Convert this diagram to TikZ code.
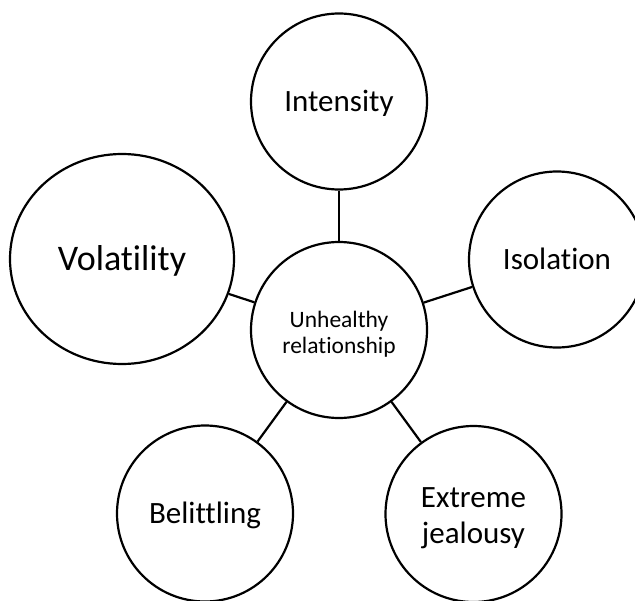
\documentclass[tikz,border=0pt]{standalone}
\usepackage{fontspec}
\setmainfont{Carlito}[Ligatures={NoCommon}]
\usetikzlibrary{shapes.geometric}
\begin{document}
\begin{tikzpicture}[x=1bp,y=-1bp,
  bubble/.style={circle, draw=black, line width=2.2bp, minimum size=176bp, inner sep=0pt, align=center},
  conn/.style={draw=black, line width=2.2bp},
  bigtext/.style={font=\fontsize{31bp}{38bp}\selectfont, text height=19.6bp, text depth=0pt},
  hugetext/.style={font=\fontsize{36bp}{44bp}\selectfont, text height=22.7bp, text depth=0pt},
  midtext/.style={font=\fontsize{31bp}{36.5bp}\selectfont},
  smalltext/.style={font=\fontsize{23.5bp}{26bp}\selectfont}]
\fill[white] (0,0) rectangle (635,601);
\clip (0,0) rectangle (635,601);
\useasboundingbox (0,0) rectangle (635,601);
\node[bubble, bigtext] (int) at (339,101.5) {Intensity};
\node[bubble, smalltext] (cen) at (339,330) {\rule{0pt}{24.3bp}Unhealthy\\relationship};
\node[ellipse, draw=black, line width=2.2bp, minimum width=224bp, minimum height=210bp, inner sep=0pt, hugetext] (vol) at (122,259) {Volatility};
\node[bubble, bigtext] (iso) at (557,259.5) {Isolation};
\node[bubble, bigtext] (bel) at (205,513.5) {Belittling};
\node[bubble, midtext] (ext) at (473.5,514) {\rule{0pt}{28.4bp}Extreme\\jealousy};
\draw[conn] (int) -- (cen);
\draw[conn] (vol) -- (cen);
\draw[conn] (iso) -- (cen);
\draw[conn] (bel) -- (cen);
\draw[conn] (ext) -- (cen);
\end{tikzpicture}
\end{document}
